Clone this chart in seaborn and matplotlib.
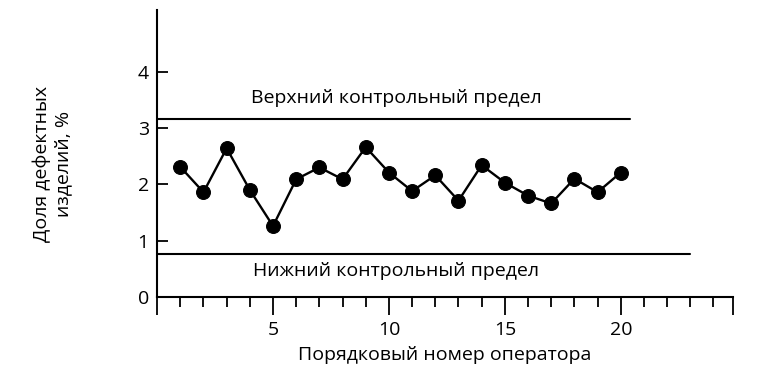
import matplotlib
matplotlib.use("Agg")
import matplotlib.pyplot as plt
from matplotlib.ticker import MultipleLocator, FixedLocator
import pandas as pd
import seaborn as sns

# Данные: доля дефектных изделий по операторам
operateurs = list(range(1, 21))
defauts = [2.31, 1.86, 2.64, 1.90, 1.26, 2.09, 2.30, 2.09, 2.66, 2.21,
           1.88, 2.16, 1.71, 2.34, 2.03, 1.80, 1.66, 2.10, 1.86, 2.21]
limite_sup = 3.16
limite_inf = 0.77
fin_sup = 20.4
fin_inf = 23.0

df = pd.DataFrame({"op": operateurs, "val": defauts})

sns.set_style("ticks")
plt.rcParams["font.family"] = ["Open Sans", "DejaVu Sans"]
plt.rcParams.update({"text.color": "black", "axes.labelcolor": "black",
                     "xtick.color": "black", "ytick.color": "black"})

fig = plt.figure(figsize=(7.59, 3.81), dpi=100)
ax = fig.add_axes([0.207, 0.2205, 0.759, 0.754])

sns.lineplot(data=df, x="op", y="val", ax=ax, color="black", linewidth=1.7,
             marker="o", markersize=10, markeredgecolor="black", markerfacecolor="black")

# Контрольные пределы
ax.plot([0, fin_sup], [limite_sup, limite_sup], color="black", linewidth=1.5)
ax.plot([0, fin_inf], [limite_inf, limite_inf], color="black", linewidth=1.5)
ax.text(10.3, 3.53, "Верхний контрольный предел", ha="center", va="center", fontsize=14)
ax.text(10.3, 0.47, "Нижний контрольный предел", ha="center", va="center", fontsize=14)

ax.set_xlim(0, 24.85)
ax.set_ylim(0, 5.1)
ax.xaxis.set_major_locator(FixedLocator([0, 5, 10, 15, 20, 24.85]))
ax.xaxis.set_minor_locator(MultipleLocator(1))
ax.set_xticklabels(["", "5", "10", "15", "20", ""])
ax.set_yticks([0, 1, 2, 3, 4])
ax.tick_params(axis="x", which="major", direction="out", length=13, width=1.3, labelsize=14, pad=4)
ax.tick_params(axis="x", which="minor", direction="out", length=7, width=1.3)
ax.tick_params(axis="y", which="major", direction="in", length=8, width=1.3, labelsize=14, pad=6)

sns.despine(ax=ax)
for s in ["left", "bottom"]:
    ax.spines[s].set_linewidth(1.5)
    ax.spines[s].set_color("black")

ax.set_xlabel("Порядковый номер оператора", fontsize=14, labelpad=5)
ax.set_ylabel("Доля дефектных\nизделий, %", fontsize=14)
ax.yaxis.set_label_coords(-0.148, 0.463)

fig.savefig("out.png", dpi=100)
